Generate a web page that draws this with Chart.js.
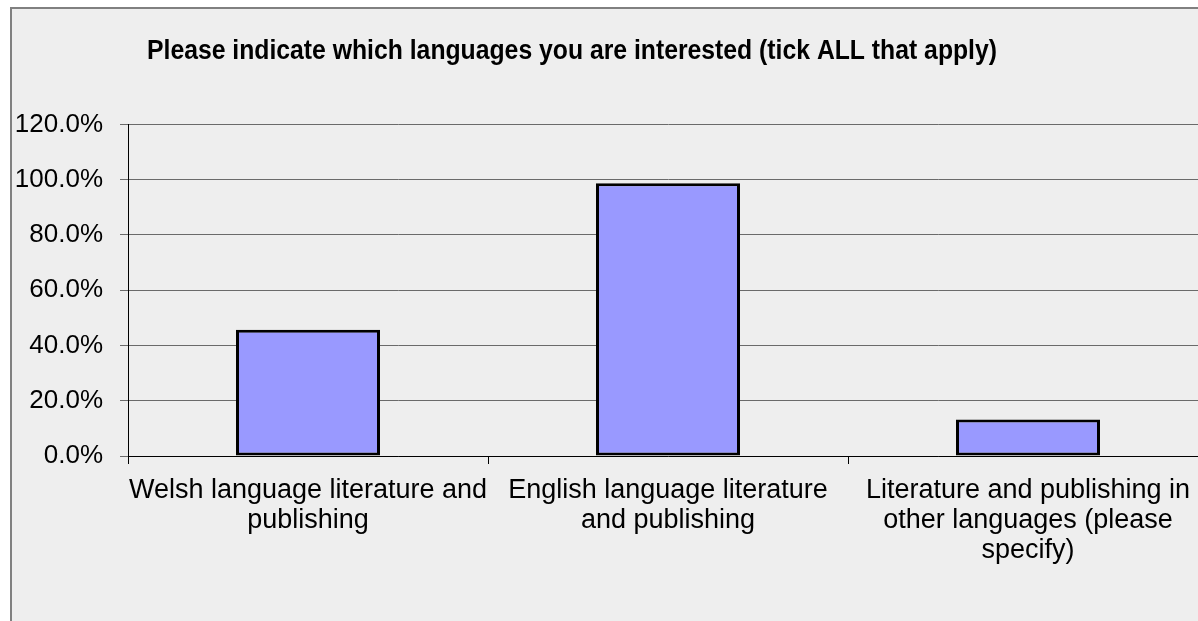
<!DOCTYPE html>
<html>
<head>
<meta charset="utf-8">
<script src="https://cdn.jsdelivr.net/npm/chart.js@4/dist/chart.umd.min.js"></script>
<style>
  html, body { margin: 0; padding: 0; background: #ffffff; overflow: hidden; width: 1198px; height: 621px; }
  #frame { position: absolute; left: 10px; top: 7px; width: 1400px; height: 800px; background: #eeeeee; border-left: 2px solid #808080; border-top: 2px solid #808080; box-sizing: border-box; }
  #c { position: absolute; left: 0; top: 0; }
</style>
</head>
<body>
<div id="frame"></div>
<canvas id="c" width="1260" height="621"></canvas>
<script>
const titleText = "Please indicate which languages you are interested (tick ALL that apply)";
const categories = [
  ["Welsh language literature and", "publishing"],
  ["English language literature", "and publishing"],
  ["Literature and publishing in", "other languages (please", "specify)"]
];
const values = [45.7, 98.7, 13.2];
const yTicks = [0, 20, 40, 60, 80, 100, 120];

const titlePos = {
  id: 'titlePos',
  afterLayout(chart) {
    if (chart.titleBlock) { chart.titleBlock.left = 147; chart.titleBlock.right = 997; }
  }
};

new Chart(document.getElementById('c'), {
  type: 'bar',
  data: {
    labels: categories,
    datasets: [{
      data: values,
      backgroundColor: '#9999ff',
      borderColor: '#000000',
      borderWidth: 3,
      borderSkipped: false,
      barPercentage: 0.4,
      categoryPercentage: 1.0
    }]
  },
  plugins: [titlePos],
  options: {
    responsive: false,
    animation: false,
    layout: { padding: { left: 0, right: 52, top: 0, bottom: 0 } },
    plugins: {
      legend: { display: false },
      tooltip: { enabled: false },
      title: {
        display: true,
        text: titleText,
        color: '#000000',
        align: 'center',
        font: { family: "'Liberation Sans Narrow', 'Liberation Sans', Arial, sans-serif", size: 27, weight: 'bold' },
        padding: { top: 35, bottom: 57 }
      }
    },
    scales: {
      x: {
        offset: true,
        grid: { display: true, drawOnChartArea: false, offset: true, tickLength: 8, color: '#000000', lineWidth: 1 },
        border: { display: true, color: '#000000', width: 1 },
        ticks: {
          color: '#000000',
          padding: 12,
          maxRotation: 0,
          autoSkip: false,
          font: { family: "'Liberation Sans', Arial, sans-serif", size: 27, lineHeight: 1.111 }
        },
        afterFit(scale) { scale.height = 165; }
      },
      y: {
        min: 0,
        max: 120,
        afterBuildTicks(scale) { scale.ticks = yTicks.map(v => ({ value: v })); },
        grid: { display: true, drawOnChartArea: true, tickLength: 8, color: '#6a6a6a', lineWidth: 1 },
        border: { display: true, color: '#000000', width: 1 },
        ticks: {
          color: '#000000',
          padding: 17,
          font: { family: "'Liberation Sans', Arial, sans-serif", size: 26 },
          callback: v => Number(v).toFixed(1) + '%'
        },
        afterFit(scale) { scale.width = 128; }
      }
    }
  }
});
</script>
</body>
</html>
